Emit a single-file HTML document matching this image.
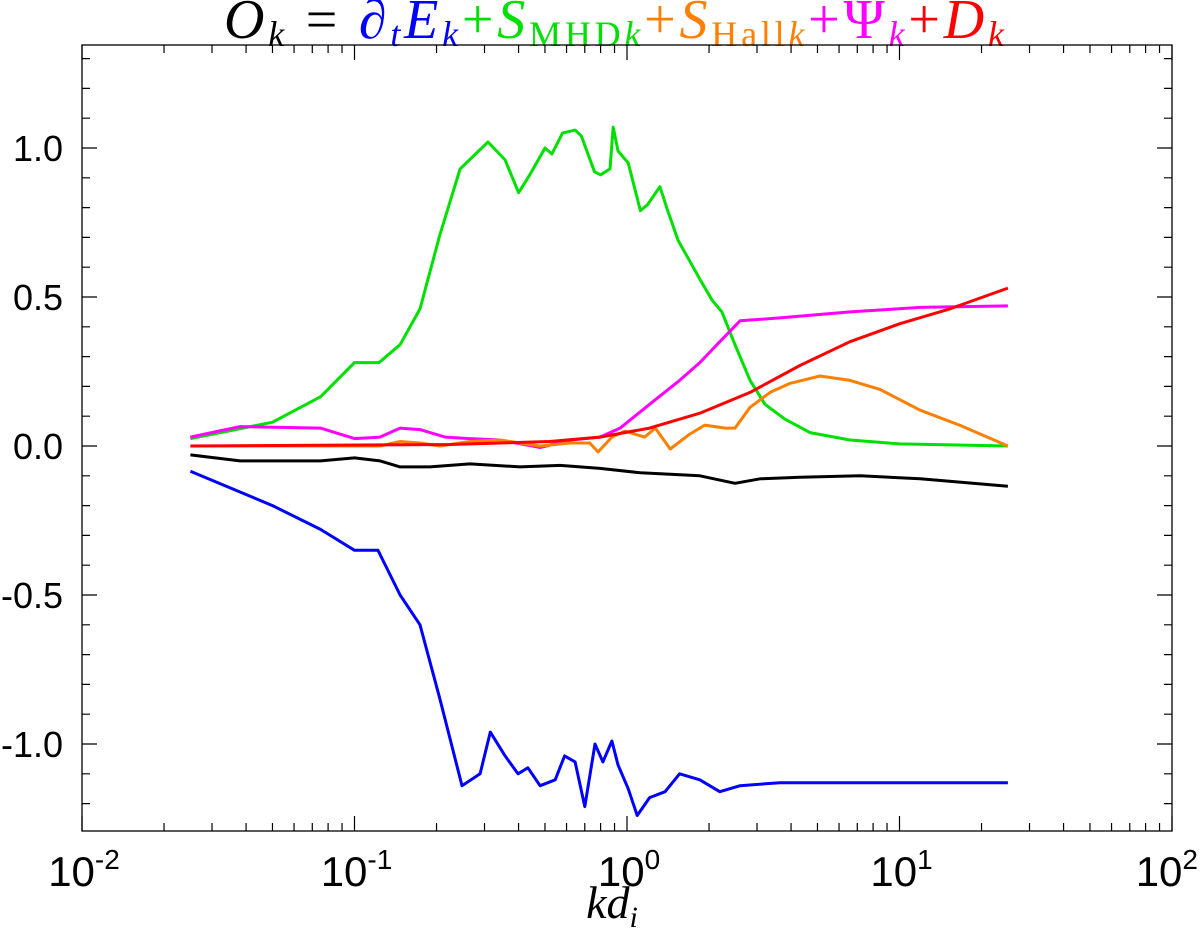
<!DOCTYPE html>
<html><head><meta charset="utf-8"><style>
body{margin:0;background:#fff}
svg{display:block}
</style></head><body>
<svg id="chart" width="1200" height="936" viewBox="0 0 1200 936" xmlns="http://www.w3.org/2000/svg">
<text x="614" y="38" text-anchor="middle" font-family="Liberation Serif, serif" font-size="56" textLength="780" lengthAdjust="spacing"><tspan font-style="italic">O</tspan><tspan font-style="italic" font-size="36" dy="8">k</tspan><tspan dy="-8"> = </tspan><tspan fill="#0000ff" font-style="italic">∂</tspan><tspan fill="#0000ff" font-style="italic" font-size="36" dy="8">t</tspan><tspan fill="#0000ff" font-style="italic" dy="-8">E</tspan><tspan fill="#0000ff" font-style="italic" font-size="36" dy="8">k</tspan><tspan fill="#00e000" dy="-8">+</tspan><tspan fill="#00e000" font-style="italic">S</tspan><tspan fill="#00e000" font-size="36" dy="8">MHD</tspan><tspan fill="#00e000" font-size="36" font-style="italic">k</tspan><tspan fill="#ff7f00" dy="-8">+</tspan><tspan fill="#ff7f00" font-style="italic">S</tspan><tspan fill="#ff7f00" font-size="36" dy="8">Hall</tspan><tspan fill="#ff7f00" font-size="36" font-style="italic">k</tspan><tspan fill="#ff00ff" dy="-8">+Ψ</tspan><tspan fill="#ff00ff" font-style="italic" font-size="36" dy="8">k</tspan><tspan fill="#ff0000" dy="-8">+</tspan><tspan fill="#ff0000" font-style="italic">D</tspan><tspan fill="#ff0000" font-style="italic" font-size="36" dy="8">k</tspan></text>
<g id="axes"></g>
<g id="series"></g>
<text x="612" y="918" text-anchor="middle" font-family="Liberation Serif, serif" font-style="italic" font-size="46">kd<tspan font-size="30" dy="9">i</tspan></text>
</svg>
<script>
const xTickExps = [-2, -1, 0, 1, 2];
const yTickVals = [-1.0, -0.5, 0.0, 0.5, 1.0];
const yTickLabels = ["-1.0", "-0.5", "0.0", "0.5", "1.0"];

const kGreen = [0.025,0.05,0.075,0.1,0.123,0.147,0.174,0.206,0.244,0.309,0.357,0.40,0.44,0.50,0.53,0.58,0.645,0.68,0.76,0.80,0.866,0.89,0.927,1.01,1.12,1.19,1.32,1.41,1.54,1.70,1.85,2.05,2.23,2.49,2.83,3.21,3.80,4.70,6.58,10,25];
const vGreen = [0.025,0.08,0.165,0.28,0.28,0.34,0.46,0.71,0.93,1.02,0.96,0.85,0.91,1.0,0.98,1.05,1.06,1.04,0.92,0.91,0.93,1.07,0.99,0.95,0.79,0.81,0.87,0.79,0.69,0.62,0.56,0.49,0.45,0.34,0.22,0.14,0.09,0.045,0.02,0.007,0.0];

const kBlue = [0.025,0.05,0.075,0.1,0.122,0.147,0.174,0.206,0.248,0.289,0.315,0.357,0.398,0.433,0.48,0.545,0.59,0.645,0.70,0.763,0.816,0.88,0.927,1.01,1.09,1.21,1.38,1.56,1.85,2.19,2.60,3.64,6.58,25];
const vBlue = [-0.085,-0.2,-0.28,-0.35,-0.35,-0.5,-0.6,-0.85,-1.14,-1.1,-0.96,-1.04,-1.1,-1.08,-1.14,-1.12,-1.04,-1.06,-1.21,-1.0,-1.06,-0.99,-1.07,-1.15,-1.24,-1.18,-1.16,-1.1,-1.12,-1.16,-1.14,-1.13,-1.13,-1.13];

const kBlack = [0.025,0.038,0.075,0.1,0.124,0.147,0.189,0.265,0.405,0.568,0.796,1.12,1.85,2.49,3.08,4.31,7.16,11.9,25];
const vBlack = [-0.03,-0.05,-0.05,-0.04,-0.05,-0.07,-0.07,-0.06,-0.07,-0.065,-0.075,-0.09,-0.1,-0.125,-0.11,-0.105,-0.1,-0.11,-0.135];

const kRed = [0.025,0.224,0.52,0.796,1.21,1.85,2.83,4.31,6.58,10,15.3,25];
const vRed = [0.0,0.005,0.015,0.03,0.06,0.11,0.18,0.27,0.35,0.41,0.46,0.53];

const kMagenta = [0.025,0.038,0.075,0.1,0.124,0.147,0.174,0.215,0.265,0.342,0.48,0.618,0.796,0.943,1.21,1.56,1.85,2.19,2.60,3.64,6.58,11.9,25];
const vMagenta = [0.03,0.065,0.06,0.025,0.03,0.06,0.055,0.03,0.025,0.02,-0.005,0.02,0.03,0.06,0.14,0.22,0.28,0.35,0.42,0.43,0.45,0.465,0.47];

const kOrange = [0.025,0.124,0.147,0.174,0.206,0.265,0.342,0.48,0.618,0.73,0.783,0.88,0.983,1.16,1.27,1.44,1.70,1.93,2.29,2.49,2.83,3.35,3.96,5.11,6.58,8.48,11.9,16.6,25];
const vOrange = [0.0,0.0,0.015,0.01,0.0,0.015,0.02,0.0,0.01,0.01,-0.02,0.03,0.05,0.03,0.06,-0.01,0.04,0.07,0.06,0.06,0.13,0.18,0.21,0.235,0.22,0.19,0.12,0.07,0.0];

const L = 82, R = 1172, T = 45, B = 831;
function xs(k){ return L + (Math.log10(k) + 2) / 4 * (R - L); }
function ys(v){ return 446 - v * 298; }
const NS = "http://www.w3.org/2000/svg";
function mk(tag, attrs, parent){ const e = document.createElementNS(NS, tag); for (const a in attrs) e.setAttribute(a, attrs[a]); parent.appendChild(e); return e; }

const axes = document.getElementById('axes');
const frame = mk('rect', {x:L, y:T, width:R-L, height:B-T, fill:'none', stroke:'#000', 'stroke-width':1.3}, axes);


let tickD = '';
xTickExps.forEach((e, i) => {
  const x = xs(Math.pow(10, e));
  tickD += `M${x},${B}v-15M${x},${T}v15`;
  if (i < xTickExps.length - 1) for (let m = 2; m <= 9; m++) { const xm = xs(m * Math.pow(10, e)); tickD += `M${xm},${B}v-8M${xm},${T}v8`; }
  const last = i === xTickExps.length - 1;
  const t = mk('text', {x: last ? 1198 : x + 2, y:886, 'text-anchor': last ? 'end' : 'middle', 'font-family':'Liberation Sans, sans-serif', 'font-size':42}, axes);
  t.innerHTML = `10<tspan font-size="28" dy="-17">${e}</tspan>`;
  
  
});
for (let i = -12; i <= 13; i++) {
  const v = i / 10, y = ys(v);
  const major = (i % 5 === 0) && Math.abs(i) <= 10;
  const len = major ? 15 : 8;
  tickD += `M${L},${y}h${len}M${R},${y}h${-len}`;
}
yTickVals.forEach((v, i) => {
  const t = mk('text', {x:63, y:ys(v) + 13, 'text-anchor':'end', 'font-family':'Liberation Sans, sans-serif', 'font-size':36}, axes);
  t.textContent = yTickLabels[i];
  
  
});
const ticks = mk('path', {d:tickD, stroke:'#000', 'stroke-width':1.2, fill:'none'}, axes);



const sg = document.getElementById('series');
function line(ks, vs, color, name){
  const d = ks.map((k, i) => (i ? 'L' : 'M') + xs(k).toFixed(1) + ',' + ys(vs[i]).toFixed(1)).join('');
  const p = mk('path', {d:d, stroke:color, 'stroke-width':3, fill:'none', 'stroke-linejoin':'round'}, sg);
  
  
}
line(kGreen, vGreen, '#00e000', 'series-s-mhd');
line(kBlack, vBlack, '#000000', 'series-o-k');
line(kMagenta, vMagenta, '#ff00ff', 'series-psi');
line(kOrange, vOrange, '#ff7f00', 'series-s-hall');
line(kRed, vRed, '#ff0000', 'series-d-k');
line(kBlue, vBlue, '#0000ff', 'series-dt-e');
</script>
</body></html>
